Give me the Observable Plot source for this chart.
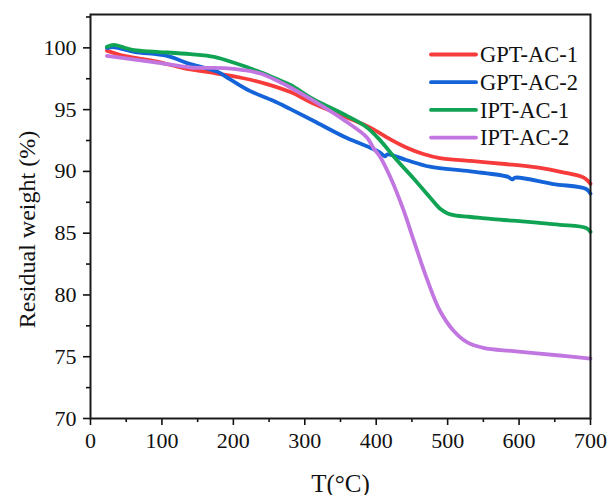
<!DOCTYPE html>
<html>
<head>
<meta charset="utf-8">
<script src="https://cdn.jsdelivr.net/npm/d3@7"></script>
<script src="https://cdn.jsdelivr.net/npm/@observablehq/plot@0.6"></script>
<style>
  html, body { margin: 0; padding: 0; background: #fff; }
  #chart { width: 608px; height: 495px; }
</style>
</head>
<body>
<div id="chart"></div>
<script>
// TGA curves: residual weight (%) versus temperature (°C)
const seriesNames = ["GPT-AC-1", "GPT-AC-2", "IPT-AC-1", "IPT-AC-2"];
const seriesColors = ["#f73b3b", "#1463d8", "#10a354", "#c176e0"];

const gpt1T = [23, 47, 93, 130, 177, 209, 247, 280, 312, 359, 391, 419, 442, 466, 489, 532, 580, 625, 660, 690, 697, 700];
const gpt1W = [99.76, 99.35, 98.89, 98.36, 97.92, 97.6, 97.07, 96.42, 95.5, 94.37, 93.56, 92.62, 91.94, 91.41, 91.08, 90.85, 90.6, 90.32, 89.95, 89.52, 89.2, 89.0];

const gpt2T = [23, 33, 61, 107, 140, 177, 195, 223, 256, 280, 312, 359, 391, 405, 412, 416, 442, 475, 532, 585, 590, 595, 648, 694, 700];
const gpt2W = [99.98, 100.05, 99.68, 99.35, 98.68, 98.08, 97.47, 96.52, 95.72, 95.04, 94.1, 92.7, 91.94, 91.55, 91.22, 91.38, 90.92, 90.38, 90.0, 89.55, 89.35, 89.5, 88.98, 88.58, 88.2];

const ipt1T = [23, 33, 47, 61, 93, 140, 173, 200, 233, 261, 280, 312, 359, 387, 405, 429, 452, 476, 490, 500, 512, 530, 560, 592, 625, 657, 694, 700];
const ipt1W = [100.08, 100.24, 100.03, 99.81, 99.68, 99.49, 99.27, 98.81, 98.14, 97.47, 97.0, 95.85, 94.5, 93.56, 92.55, 90.9, 89.45, 87.85, 86.95, 86.6, 86.42, 86.33, 86.15, 86.01, 85.85, 85.68, 85.42, 85.1];

const ipt2T = [23, 47, 93, 140, 187, 214, 238, 263, 280, 312, 355, 387, 396, 406, 420, 438, 452, 471, 489, 508, 527, 550, 592, 657, 700];
const ipt2W = [99.35, 99.17, 98.81, 98.41, 98.36, 98.2, 97.92, 97.3, 96.79, 95.72, 94.15, 92.75, 91.9, 91.13, 89.5, 86.9, 84.5, 81.3, 78.74, 77.12, 76.18, 75.72, 75.45, 75.1, 74.85];

const xTicks = [0, 100, 200, 300, 400, 500, 600, 700];
const xMinor = [50, 150, 250, 350, 450, 550, 650];
const yTicks = [70, 75, 80, 85, 90, 95, 100];
const yMinor = [72.5, 77.5, 82.5, 87.5, 92.5, 97.5, 102.5];

const allT = [gpt1T, gpt2T, ipt1T, ipt2T];
const allW = [gpt1W, gpt2W, ipt1W, ipt2W];
const rows = seriesNames.flatMap((name, i) =>
  allT[i].map((t, j) => ({series: name, T: t, W: allW[i][j]}))
);

const serif = "'Liberation Serif', 'Times New Roman', serif";

const chart = Plot.plot({
  width: 608,
  height: 495,
  marginLeft: 90,
  marginRight: 18,
  marginTop: 14,
  marginBottom: 77,
  style: {fontFamily: serif, fontSize: "22px", color: "#111", background: "#fff"},
  x: {domain: [0, 700]},
  y: {domain: [70, 102.7]},
  color: {domain: seriesNames, range: seriesColors},
  marks: [
    Plot.line(rows, {x: "T", y: "W", z: "series", stroke: "series", strokeWidth: 3.8, curve: "catmull-rom"}),
    Plot.axisX({ticks: xMinor, tickSize: 4, tickFormat: () => "", label: null, strokeWidth: 1.6}),
    Plot.axisX({ticks: xTicks, tickSize: 7, tickPadding: 7, label: null, strokeWidth: 1.6, fontSize: 22}),
    Plot.axisY({ticks: yMinor.filter(v => v <= 102.7), tickSize: 4, tickFormat: () => "", label: null, strokeWidth: 1.6}),
    Plot.axisY({ticks: yTicks, tickSize: 7, tickPadding: 7, label: null, strokeWidth: 1.6, fontSize: 22}),
    Plot.frame({stroke: "#1a1a1a", strokeWidth: 2}),
    Plot.text(["Residual weight (%)"], {frameAnchor: "left", dx: -63, dy: 13, rotate: -90, textAnchor: "middle", lineAnchor: "middle", fontSize: 24, fill: "#111"}),
    Plot.text(["T(°C)"], {frameAnchor: "bottom", dy: 65, textAnchor: "middle", lineAnchor: "middle", fontSize: 25, fill: "#111"})
  ]
});

// Legend inside the upper-right corner of the frame
const svg = d3.select(chart);
const legend = svg.append("g")
  .attr("font-family", serif)
  .attr("font-size", 22.5)
  .attr("text-anchor", "start");
seriesNames.forEach((name, i) => {
  const y = 54.5 + i * 27.7;
  legend.append("line")
    .attr("x1", 431).attr("x2", 476).attr("y1", y).attr("y2", y)
    .attr("stroke", seriesColors[i]).attr("stroke-width", 3.8)
    .attr("stroke-linecap", "round");
  legend.append("text")
    .attr("x", 480).attr("y", y).attr("dy", "0.34em")
    .attr("fill", "#111").text(name);
});

document.getElementById("chart").appendChild(chart);
</script>
</body>
</html>
